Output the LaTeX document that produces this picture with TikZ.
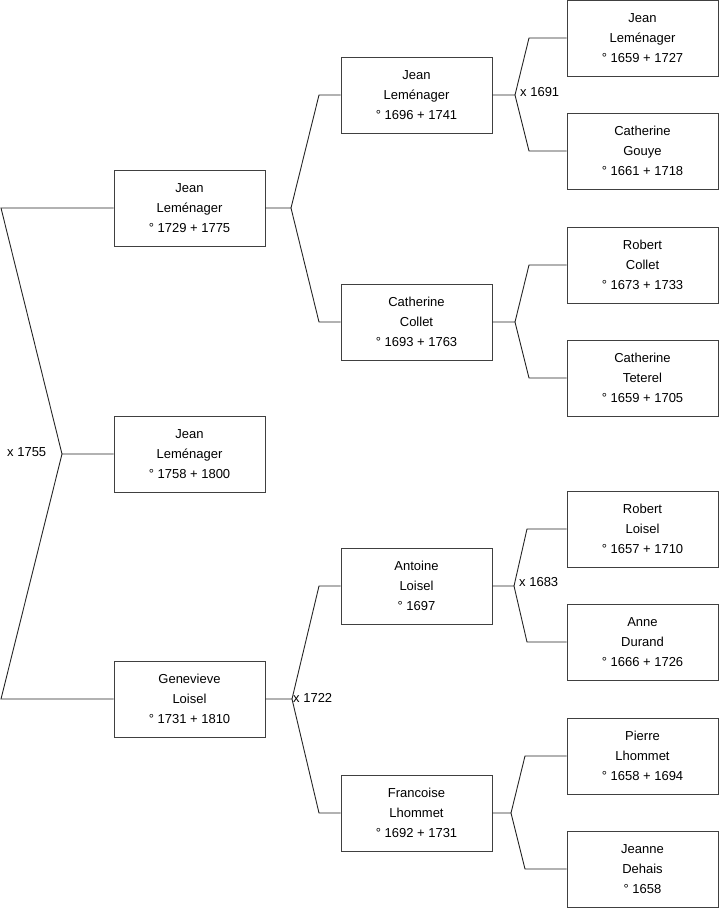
\documentclass[tikz,border=0pt]{standalone}
\usepackage{fontspec}
\setmainfont{Liberation Sans}
\begin{document}
\begin{tikzpicture}[x=1pt,y=-1pt,
  person/.style={draw=black!75,line width=0.9pt,fill=white,minimum width=151pt,minimum height=76pt,inner sep=0pt,align=center,font=\fontsize{13}{20}\selectfont,text depth=0pt},
  conn/.style={draw=black!85,line width=0.9pt},
  mlabel/.style={font=\fontsize{13}{14}\selectfont,anchor=west,inner sep=0pt}]
\useasboundingbox (0,0) rectangle (719,908);
% level 1
\node[person] (a1) at (189.5,208) {Jean\\Leménager\\° 1729 + 1775};
\node[person] (a0) at (189.5,454) {Jean\\Leménager\\° 1758 + 1800};
\node[person] (a2) at (189.5,699) {Genevieve\\Loisel\\° 1731 + 1810};
% level 2
\node[person] (b1) at (416.5,95) {Jean\\Leménager\\° 1696 + 1741};
\node[person] (b2) at (416.5,322) {Catherine\\Collet\\° 1693 + 1763};
\node[person] (b3) at (416.5,586) {Antoine\\Loisel\\° 1697};
\node[person] (b4) at (416.5,813) {Francoise\\Lhommet\\° 1692 + 1731};
% level 3
\node[person] (c1) at (642.5,38) {Jean\\Leménager\\° 1659 + 1727};
\node[person] (c2) at (642.5,151) {Catherine\\Gouye\\° 1661 + 1718};
\node[person] (c3) at (642.5,265) {Robert\\Collet\\° 1673 + 1733};
\node[person] (c4) at (642.5,378) {Catherine\\Teterel\\° 1659 + 1705};
\node[person] (c5) at (642.5,529) {Robert\\Loisel\\° 1657 + 1710};
\node[person] (c6) at (642.5,642) {Anne\\Durand\\° 1666 + 1726};
\node[person] (c7) at (642.5,756) {Pierre\\Lhommet\\° 1658 + 1694};
\node[person] (c8) at (642.5,869) {Jeanne\\Dehais\\° 1658};
% junction coordinates
\coordinate (j0) at (62,454);
\coordinate (j0a) at (1,208);
\coordinate (j0b) at (1,699);
\coordinate (j1) at (291,208);
\coordinate (j1a) at (319,95);
\coordinate (j1b) at (319,322);
\coordinate (j2) at (292,699);
\coordinate (j2a) at (319,586);
\coordinate (j2b) at (319,813);
\coordinate (k1) at (515,95);
\coordinate (k1a) at (529,38);
\coordinate (k1b) at (529,151);
\coordinate (k2) at (515,322);
\coordinate (k2a) at (529,265);
\coordinate (k2b) at (529,378);
\coordinate (k3) at (514,586);
\coordinate (k3a) at (527,529);
\coordinate (k3b) at (527,642);
\coordinate (k4) at (511,813);
\coordinate (k4a) at (525,756);
\coordinate (k4b) at (525,869);
% connectors
\draw[conn] (a0.west) -- (j0) -- (j0a) -- (a1.west);
\draw[conn] (j0) -- (j0b) -- (a2.west);
\draw[conn] (a1.east) -- (j1) -- (j1a) -- (b1.west);
\draw[conn] (j1) -- (j1b) -- (b2.west);
\draw[conn] (a2.east) -- (j2) -- (j2a) -- (b3.west);
\draw[conn] (j2) -- (j2b) -- (b4.west);
\draw[conn] (b1.east) -- (k1) -- (k1a) -- (c1.west);
\draw[conn] (k1) -- (k1b) -- (c2.west);
\draw[conn] (b2.east) -- (k2) -- (k2a) -- (c3.west);
\draw[conn] (k2) -- (k2b) -- (c4.west);
\draw[conn] (b3.east) -- (k3) -- (k3a) -- (c5.west);
\draw[conn] (k3) -- (k3b) -- (c6.west);
\draw[conn] (b4.east) -- (k4) -- (k4a) -- (c7.west);
\draw[conn] (k4) -- (k4b) -- (c8.west);
% marriage labels
\node[mlabel] (m0) at (7,452) {x 1755};
\node[mlabel] (m1) at (520,92) {x 1691};
\node[mlabel] (m2) at (293,698) {x 1722};
\node[mlabel] (m3) at (519,582) {x 1683};
\end{tikzpicture}
\end{document}
